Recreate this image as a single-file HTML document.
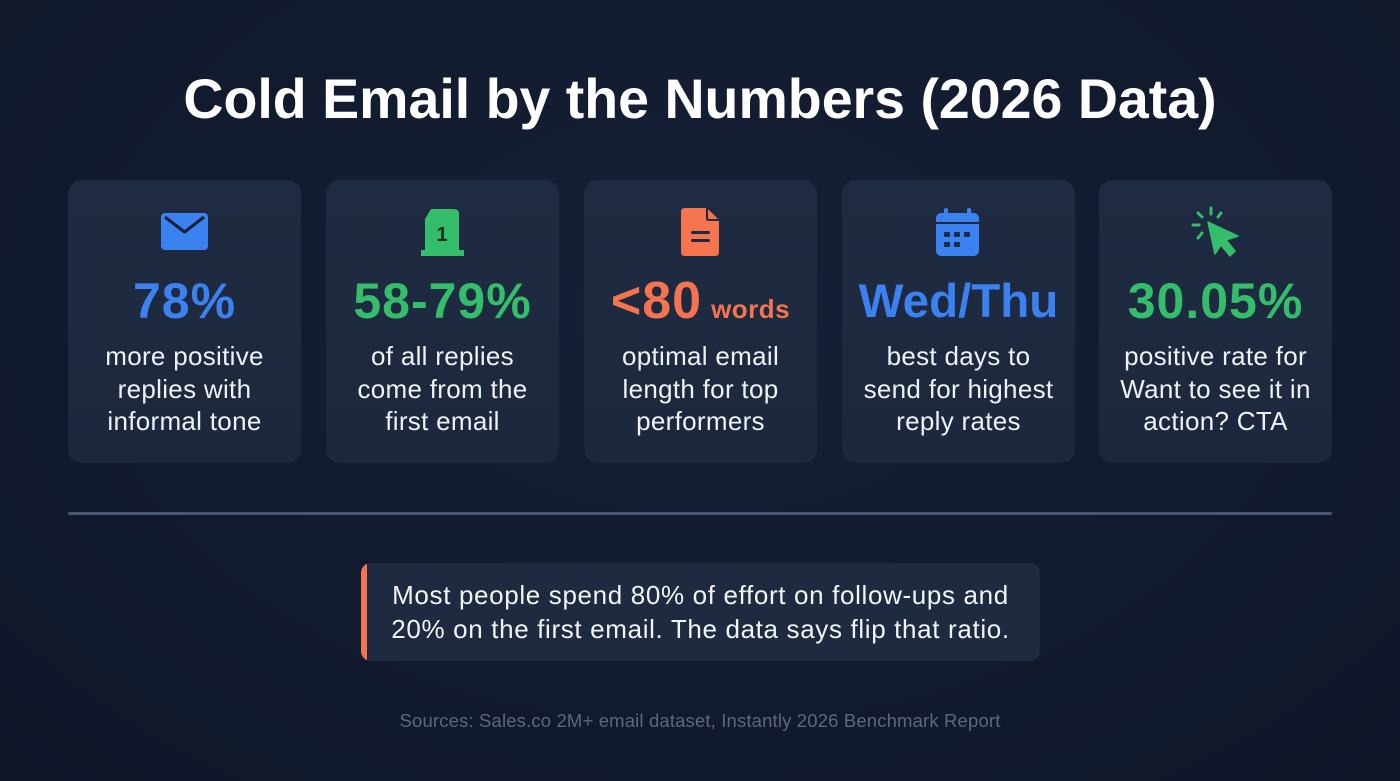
<!DOCTYPE html>
<html>
<head>
<meta charset="utf-8">
<style>
  html, body { margin:0; padding:0; }
  body {
    width:1400px; height:781px; overflow:hidden; position:relative;
    background: radial-gradient(ellipse at 50% 40%, #162038 0%, #121a2e 55%, #0f1628 100%);
    font-family: "Liberation Sans", "DejaVu Sans", sans-serif;
  }
  .title {
    position:absolute; left:0; width:1400px; top:71px;
    text-align:center; color:#ffffff; font-weight:bold;
    font-size:55.5px; line-height:56px; letter-spacing:0px;
  }
  .card {
    position:absolute; top:180px; width:233px; height:283px;
    border-radius:14px;
    background: linear-gradient(180deg, #1f2b42 0%, #1d283d 100%);
  }
  .num {
    position:absolute; left:0; width:100%; top:96px;
    text-align:center; font-weight:bold; font-size:50px; line-height:50px;
    letter-spacing:1px; white-space:nowrap;
  }
  .desc {
    position:absolute; left:0; width:100%; top:160px;
    text-align:center; color:#eef1f6; font-size:26px; line-height:32.5px;
    letter-spacing:0.3px;
  }
  .blue { color:#3b82f0; }
  .green { color:#34bd6a; }
  .orange { color:#f3744f; }
  .rule {
    position:absolute; left:68px; top:512px; width:1264px; height:3px;
    background:#4a5772; border-radius:1px;
  }
  .callout {
    position:absolute; left:361px; top:563px; width:679px; height:98px;
    background:#1e2a3f; border-radius:10px; overflow:hidden;
  }
  .callout .bar {
    position:absolute; left:0; top:0; width:6px; height:100%;
    background:#f3744f;
  }
  .callout .txt {
    position:absolute; left:0; right:0; top:15px;
    text-align:center; color:#f2f4f8; font-size:26px; line-height:34px;
    letter-spacing:0.65px; white-space:nowrap;
  }
  .src {
    position:absolute; left:0; width:1400px; top:710px;
    text-align:center; color:#5d677d; font-size:18.5px; line-height:22px;
    letter-spacing:0.15px;
  }
  svg.icons { position:absolute; left:0; top:0; }
</style>
</head>
<body>
  <div class="title">Cold Email by the Numbers (2026 Data)</div>

  <div class="card" style="left:68px;">
    <div class="num blue">78%</div>
    <div class="desc">more positive<br>replies with<br>informal tone</div>
  </div>
  <div class="card" style="left:326px;">
    <div class="num green">58-79%</div>
    <div class="desc">of all replies<br>come from the<br>first email</div>
  </div>
  <div class="card" style="left:584px;">
    <div class="num orange" style="font-size:52px;">&lt;80<span style="font-size:26px; letter-spacing:0.5px; margin-left:9px;">words</span></div>
    <div class="desc">optimal email<br>length for top<br>performers</div>
  </div>
  <div class="card" style="left:842px;">
    <div class="num blue" style="font-size:47.5px; letter-spacing:0; top:97px;">Wed/Thu</div>
    <div class="desc">best days to<br>send for highest<br>reply rates</div>
  </div>
  <div class="card" style="left:1099px;">
    <div class="num green">30.05%</div>
    <div class="desc">positive rate for<br>Want to see it in<br>action? CTA</div>
  </div>

  <svg class="icons" width="1400" height="781" viewBox="0 0 1400 781">
    <!-- envelope -->
    <rect x="161" y="213" width="47" height="37" rx="4" fill="#3b82f0"/>
    <polyline points="165,217 184.5,232 204,217" fill="none" stroke="#13203a" stroke-width="3" stroke-linejoin="round"/>
    <!-- number 1 podium -->
    <path d="M431,209 L454,209 Q459,209 459,214 L459,250 L464,250 L464,256 L421,256 L421,250 L425,250 L425,219 Z" fill="#34bd6a"/>
    <text x="442" y="241" text-anchor="middle" font-family="Liberation Sans, sans-serif" font-weight="bold" font-size="20" fill="#16301f">1</text>
    <!-- document -->
    <path d="M685,208 L707,208 L719,220 L719,252 Q719,256 715,256 L685,256 Q681,256 681,252 L681,212 Q681,208 685,208 Z" fill="#f3744f"/>
    <path d="M707,208 L707,218 Q707,220 709,220 L719,220" fill="none" stroke="#1e2a3f" stroke-width="2"/>
    <rect x="691" y="231" width="19" height="3" rx="1.5" fill="#1e2a3f"/>
    <rect x="691" y="239" width="19" height="3" rx="1.5" fill="#1e2a3f"/>
    <!-- calendar -->
    <rect x="944" y="208" width="4" height="9" rx="2" fill="#3b82f0"/>
    <rect x="967" y="208" width="4" height="9" rx="2" fill="#3b82f0"/>
    <rect x="936" y="213" width="43" height="43" rx="5" fill="#3b82f0"/>
    <rect x="936" y="222" width="43" height="2" fill="#1e2a3f"/>
    <rect x="944" y="232" width="6" height="5" rx="1" fill="#1e2a3f"/>
    <rect x="954" y="232" width="6" height="5" rx="1" fill="#1e2a3f"/>
    <rect x="964" y="232" width="6" height="5" rx="1" fill="#1e2a3f"/>
    <rect x="944" y="242" width="6" height="5" rx="1" fill="#1e2a3f"/>
    <rect x="954" y="242" width="6" height="5" rx="1" fill="#1e2a3f"/>
    <!-- cursor with click rays -->
    <path d="M1208,222 L1238,236 L1226,240 L1235,251 L1230,256 L1221,245 L1215,254 Z" fill="#34bd6a" stroke="#34bd6a" stroke-width="1.5" stroke-linejoin="round"/>
    <g stroke="#34bd6a" stroke-width="3" stroke-linecap="round">
      <line x1="1211" y1="208" x2="1211" y2="214"/>
      <line x1="1221" y1="213" x2="1218" y2="217"/>
      <line x1="1198" y1="213" x2="1202" y2="217"/>
      <line x1="1193" y1="225" x2="1199" y2="225"/>
      <line x1="1198" y1="238" x2="1202" y2="233"/>
    </g>
  </svg>

  <div class="rule"></div>

  <div class="callout">
    <div class="bar"></div>
    <div class="txt">Most people spend 80% of effort on follow-ups and<br>20% on the first email. The data says flip that ratio.</div>
  </div>

  <div class="src">Sources: Sales.co 2M+ email dataset, Instantly 2026 Benchmark Report</div>
</body>
</html>
